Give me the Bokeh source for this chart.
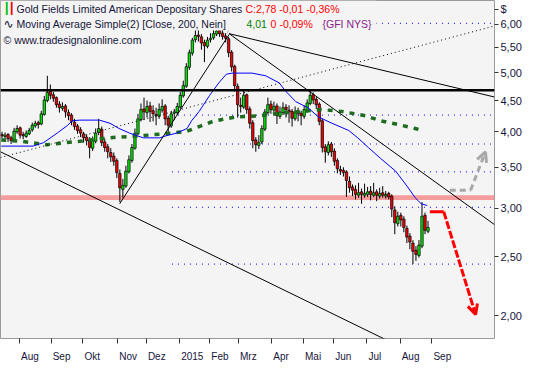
import pandas as pd
from bokeh.plotting import figure
from bokeh.models import (FixedTicker, CustomJSTickFormatter, Span, BoxAnnotation,
                          Label, Arrow, OpenHead, ColumnDataSource, Range1d)
from bokeh.embed import file_html
from bokeh.resources import INLINE

# ---------------- data ----------------
start_date = "2014-07-16"
holidays = ["2014-09-01", "2014-11-27", "2014-12-25", "2015-01-01", "2015-01-19",
            "2015-02-16", "2015-04-03", "2015-05-25", "2015-07-03", "2015-09-07"]
month_starts = ["2014-08-01", "2014-09-01", "2014-10-01", "2014-11-01", "2014-12-01",
                "2015-01-01", "2015-02-01", "2015-03-01", "2015-04-01", "2015-05-01",
                "2015-06-01", "2015-07-01", "2015-08-01", "2015-09-01"]
month_labels = ["Aug", "Sep", "Okt", "Nov", "Dez", "2015", "Feb", "Mrz", "Apr", "Mai",
                "Jun", "Jul", "Aug", "Sep"]
price_ticks = [2, 2.5, 3, 3.5, 4, 4.5, 5, 5.5, 6]
currency_tick = 6.35   # where the "$" unit label sits

# two-session candles (GFI, USD)
opens = [3.96, 3.93, 3.96, 3.91, 3.86, 4.00, 4.06, 3.96, 3.93, 3.97, 4.03, 4.09, 4.14, 4.12, 4.27, 4.50,
         4.66, 4.60, 4.55, 4.44, 4.37, 4.41, 4.30, 4.26, 4.15, 4.09, 4.03, 3.97, 3.92, 3.88, 3.76, 3.86,
         3.99, 4.04, 3.85, 3.78, 3.70, 3.65, 3.59, 3.42, 3.22, 3.26, 3.44, 3.59, 3.76, 3.97, 4.19, 4.36,
         4.30, 4.41, 4.33, 4.27, 4.24, 4.34, 4.41, 4.21, 4.09, 4.29, 4.30, 4.39, 4.58, 4.75, 5.10, 5.38,
         5.66, 5.76, 5.72, 5.60, 5.52, 5.66, 5.70, 5.78, 5.86, 5.80, 5.74, 5.68, 5.40, 5.12, 4.75, 4.42,
         4.39, 4.60, 4.36, 4.14, 3.88, 3.80, 3.85, 4.04, 4.30, 4.44, 4.34, 4.41, 4.24, 4.30, 4.39, 4.34,
         4.32, 4.20, 4.32, 4.29, 4.24, 4.34, 4.45, 4.60, 4.52, 4.44, 4.17, 3.78, 3.70, 3.82, 3.72, 3.59,
         3.47, 3.46, 3.44, 3.32, 3.25, 3.22, 3.15, 3.19, 3.15, 3.16, 3.20, 3.15, 3.19, 3.14, 3.18, 3.14,
         3.17, 3.14, 2.98, 2.83, 2.92, 2.88, 2.78, 2.70, 2.63, 2.56, 2.51, 2.60, 2.92, 2.75]
highs = [4.00, 3.99, 3.98, 3.94, 4.06, 4.10, 4.08, 4.00, 4.02, 4.06, 4.14, 4.17, 4.17, 4.33, 4.58, 4.94,
         4.78, 4.65, 4.57, 4.49, 4.47, 4.44, 4.35, 4.29, 4.20, 4.12, 4.07, 4.00, 3.96, 3.92, 3.93, 4.05,
         4.20, 4.08, 3.90, 3.82, 3.76, 3.70, 3.62, 3.47, 3.35, 3.52, 3.66, 3.82, 4.05, 4.28, 4.45, 4.55,
         4.50, 4.48, 4.42, 4.38, 4.45, 4.52, 4.44, 4.25, 4.33, 4.36, 4.46, 4.65, 4.85, 5.18, 5.45, 5.70,
         5.95, 5.90, 5.78, 5.66, 5.72, 5.80, 5.98, 6.02, 5.96, 5.92, 5.80, 5.72, 5.44, 5.15, 4.80, 4.55,
         4.68, 4.62, 4.40, 4.18, 3.92, 3.95, 4.10, 4.36, 4.55, 4.50, 4.48, 4.45, 4.40, 4.47, 4.44, 4.42,
         4.36, 4.40, 4.38, 4.33, 4.42, 4.52, 4.66, 4.64, 4.56, 4.47, 4.20, 3.82, 3.86, 3.85, 3.76, 3.62,
         3.52, 3.50, 3.46, 3.38, 3.28, 3.27, 3.30, 3.23, 3.29, 3.25, 3.26, 3.30, 3.22, 3.24, 3.26, 3.20,
         3.19, 3.16, 3.02, 2.96, 2.95, 2.91, 2.81, 2.73, 2.66, 2.60, 2.66, 3.07, 2.95, 2.86]
lows = [3.90, 3.89, 3.85, 3.82, 3.85, 3.97, 3.90, 3.89, 3.91, 3.95, 4.00, 4.06, 4.05, 4.10, 4.25, 4.47,
        4.52, 4.48, 4.38, 4.30, 4.33, 4.22, 4.18, 4.10, 4.03, 3.97, 3.92, 3.84, 3.80, 3.62, 3.72, 3.83,
        3.95, 3.79, 3.71, 3.62, 3.57, 3.52, 3.36, 3.07, 3.12, 3.24, 3.42, 3.56, 3.74, 3.95, 4.16, 4.18,
        4.22, 4.15, 4.16, 4.10, 4.20, 4.30, 4.10, 3.98, 4.06, 4.18, 4.26, 4.36, 4.55, 4.72, 5.05, 5.33,
        5.60, 5.62, 5.45, 5.20, 5.48, 5.60, 5.66, 5.74, 5.72, 5.66, 5.60, 5.30, 5.02, 4.66, 4.22, 4.30,
        4.36, 4.28, 4.05, 3.76, 3.71, 3.75, 3.82, 4.01, 4.27, 4.28, 4.30, 4.12, 4.20, 4.26, 4.22, 4.14,
        4.08, 4.17, 4.16, 4.10, 4.20, 4.30, 4.42, 4.44, 4.36, 4.10, 3.70, 3.56, 3.66, 3.64, 3.52, 3.42,
        3.40, 3.38, 3.13, 3.18, 3.14, 3.10, 3.12, 3.05, 3.12, 3.13, 3.09, 3.13, 3.08, 3.11, 3.12, 3.11,
        3.10, 2.90, 2.72, 2.80, 2.80, 2.74, 2.63, 2.57, 2.43, 2.46, 2.49, 2.58, 2.72, 2.73]
closes = [3.94, 3.95, 3.90, 3.87, 4.01, 4.05, 3.95, 3.94, 3.98, 4.02, 4.10, 4.13, 4.11, 4.28, 4.51, 4.64,
          4.59, 4.54, 4.43, 4.38, 4.40, 4.31, 4.25, 4.16, 4.08, 4.02, 3.98, 3.91, 3.87, 3.77, 3.87, 3.98,
          4.05, 3.84, 3.77, 3.71, 3.64, 3.58, 3.43, 3.24, 3.27, 3.45, 3.60, 3.77, 3.98, 4.20, 4.35, 4.31,
          4.40, 4.32, 4.28, 4.25, 4.35, 4.40, 4.20, 4.10, 4.28, 4.31, 4.40, 4.59, 4.76, 5.11, 5.39, 5.65,
          5.75, 5.73, 5.59, 5.53, 5.65, 5.69, 5.79, 5.85, 5.79, 5.73, 5.69, 5.39, 5.11, 4.76, 4.43, 4.40,
          4.59, 4.35, 4.13, 3.87, 3.81, 3.84, 4.05, 4.31, 4.43, 4.35, 4.40, 4.25, 4.31, 4.38, 4.35, 4.31,
          4.21, 4.31, 4.28, 4.25, 4.35, 4.46, 4.59, 4.51, 4.43, 4.16, 3.77, 3.71, 3.81, 3.71, 3.58, 3.48,
          3.45, 3.43, 3.33, 3.24, 3.21, 3.16, 3.18, 3.16, 3.17, 3.19, 3.16, 3.18, 3.15, 3.17, 3.15, 3.16,
          3.13, 2.99, 2.84, 2.91, 2.87, 2.79, 2.69, 2.64, 2.55, 2.52, 2.61, 2.91, 2.76, 2.79]

# moving averages (session index, value)
ma_short_day = [0, 21, 28, 37, 44, 47, 52, 65, 72, 78, 85, 90, 94, 105, 109, 116, 123, 126, 131, 138,
                144, 149, 153, 166, 175, 184, 188, 195, 203, 210, 219, 230, 236, 243, 251, 261, 269, 274,
                278, 282]
ma_short_val = [3.79, 3.79, 3.84, 3.98, 4.10, 4.17, 4.18, 4.18, 4.13, 4.05, 3.98, 3.94, 3.91, 3.91, 3.94,
                3.98, 4.05, 4.17, 4.32, 4.59, 4.81, 4.97, 4.99, 4.99, 4.94, 4.81, 4.67, 4.48, 4.38, 4.23,
                4.13, 4.02, 3.91, 3.77, 3.62, 3.45, 3.25, 3.12, 3.05, 3.03]
ma200_day = [0, 13, 30, 52, 70, 92, 113, 123, 131, 140, 155, 171, 184, 199, 212, 225, 241, 251, 263, 274, 279]
ma200_val = [3.88, 3.86, 3.81, 3.86, 3.91, 3.94, 3.98, 4.01, 4.08, 4.16, 4.23, 4.25, 4.29, 4.32, 4.35,
             4.32, 4.25, 4.17, 4.11, 4.05, 4.02]

# Fibonacci retracement levels (6.02 high -> 2.43 low)
fib_levels = [6.02, 4.26, 3.82, 3.44, 3.01, 2.43]
fib_start_day = 113
fib_end_day = 330

resistance = 4.68
support_band = (3.094, 3.150)

# trend lines: (day0, price0, day1, price1)
trend_solid = [(-0.5, 3.71, 256.1, 1.82),
               (78.4, 3.05, 150.8, 5.77),
               (150.8, 5.79, 326.5, 2.82),
               (150.8, 5.79, 326.5, 4.56)]
trend_dotted = [(-0.5, 3.63, 326.5, 5.96)]
trend_gray = [(149.5, 5.79, 160.7, 6.68)]

# scenario arrows (day, price)
gray_path_day = [296.9, 310.7, 320.5]
gray_path_val = [3.21, 3.21, 3.71]
red_path_day = [283.7, 292.9, 314.0]
red_path_val = [2.96, 2.96, 2.01]

# ---------------- figure ----------------
cal = pd.bdate_range(start_date, periods=360, freq="C", holidays=holidays)
tick_pos = [int(cal.searchsorted(pd.Timestamp(m))) for m in month_starts]

FONT = "Liberation Sans"
TXT = "#15153a"
BG = "#f4f4f4"
PX_PER_DAY = 1.496
XLAB_PX = 10
# approximate advance widths (1/1000 em) used to put month labels just right of their tick
CW = {"A": 667, "u": 556, "g": 556, "S": 667, "e": 556, "p": 556, "O": 778, "k": 500,
      "t": 278, "N": 722, "o": 556, "v": 500, "D": 722, "z": 500, "2": 556, "0": 556,
      "1": 556, "5": 556, "F": 611, "b": 556, "M": 833, "r": 333, "a": 556, "i": 222,
      "J": 500, "n": 556, "l": 222}
label_pos = [t + (sum(CW.get(ch, 556) for ch in lab) * XLAB_PX / 1000 / 2 + 1.5) / PX_PER_DAY
             for t, lab in zip(tick_pos, month_labels)]

p = figure(width=524, height=364, output_backend="svg", toolbar_location=None,
           y_axis_type="log", y_axis_location="right",
           x_range=Range1d(-0.5, 326.5), y_range=Range1d(1.836, 6.56),
           min_border_left=0, min_border_top=0, min_border_bottom=0, min_border_right=0)
p.background_fill_color = BG
p.border_fill_color = "white"
p.outline_line_color = "#9a9a9a"
p.grid.visible = False

xa = p.xaxis[0]
xa.ticker = FixedTicker(ticks=label_pos, minor_ticks=tick_pos)
xa.formatter = CustomJSTickFormatter(
    args=dict(pos=label_pos, labs=month_labels),
    code="""
let best = 0, bd = 1e9;
for (let i = 0; i < pos.length; i++) { const d = Math.abs(pos[i] - tick); if (d < bd) { bd = d; best = i; } }
return labs[best];
""")
xa.major_tick_line_color = None
xa.minor_tick_out = 5
xa.minor_tick_in = 0
xa.minor_tick_line_color = "#333333"
xa.axis_line_color = None
xa.major_label_text_font = FONT
xa.major_label_text_font_size = f"{XLAB_PX}px"
xa.major_label_text_color = TXT
xa.major_label_standoff = 6

ya = p.yaxis[0]
ya.ticker = FixedTicker(ticks=price_ticks + [currency_tick])
ya.formatter = CustomJSTickFormatter(
    args=dict(cur=currency_tick),
    code="return Math.abs(tick - cur) < 1e-6 ? '$' : tick.toFixed(2).replace('.', ',');")
ya.major_tick_out = 4
ya.major_tick_in = 0
ya.minor_tick_line_color = None
ya.axis_line_color = None
ya.major_tick_line_color = "#333333"
ya.major_label_text_font = FONT
ya.major_label_text_font_size = "11px"
ya.major_label_text_color = TXT
ya.major_label_standoff = 2

# support band
p.add_layout(BoxAnnotation(bottom=support_band[0], top=support_band[1], fill_color="#f59c9c",
                           fill_alpha=1.0, line_color=None, level="underlay"))

# fib levels
for lv in fib_levels:
    p.line([fib_start_day, fib_end_day], [lv, lv], line_color="#0000ff", line_width=1,
           line_dash="1 5")

# candles
xs = [2 * k + 0.5 for k in range(len(closes))]
src = ColumnDataSource(dict(
    x=xs, o=opens, h=highs, l=lows, c=closes,
    top=[max(a, b) for a, b in zip(opens, closes)],
    bot=[min(a, b) for a, b in zip(opens, closes)],
    col=["#00e400" if c >= o else "#f00000" for o, c in zip(opens, closes)]))
p.segment(x0="x", y0="l", x1="x", y1="h", source=src, line_color="black", line_width=1)
p.vbar(x="x", width=1.6, top="top", bottom="bot", source=src, fill_color="col",
       line_color="black", line_width=0.7)

# moving averages
p.line(ma200_day, ma200_val, line_color="#1f6b1f", line_width=3.5, line_dash="5 6")
p.line(ma_short_day, ma_short_val, line_color="#0000ff", line_width=1)

# trend lines
for d0, v0, d1, v1 in trend_solid:
    p.line([d0, d1], [v0, v1], line_color="black", line_width=1)
for d0, v0, d1, v1 in trend_dotted:
    p.line([d0, d1], [v0, v1], line_color="black", line_width=1, line_dash="1 3")

p.add_layout(Span(location=resistance, dimension="width", line_color="black", line_width=2.5))

# scenario arrows
p.line(gray_path_day[:2], gray_path_val[:2], line_color="#a8a8a8", line_width=3, line_dash="6 4")
p.add_layout(Arrow(end=OpenHead(size=10, line_color="#a8a8a8", line_width=3),
                   x_start=gray_path_day[1], y_start=gray_path_val[1],
                   x_end=gray_path_day[2], y_end=gray_path_val[2],
                   line_color="#a8a8a8", line_width=3, line_dash="6 4"))
p.line(red_path_day[:2], red_path_val[:2], line_color="#ff0000", line_width=3)
p.add_layout(Arrow(end=OpenHead(size=10, line_color="#ff0000", line_width=3),
                   x_start=red_path_day[1], y_start=red_path_val[1],
                   x_end=red_path_day[2], y_end=red_path_val[2],
                   line_color="#ff0000", line_width=3, line_dash="8 2"))

# header panel (opaque, like the chart's legend area)
p.add_layout(BoxAnnotation(left=0, right=376, left_units="screen", right_units="screen",
                           top=6.56, bottom=5.86, fill_color=BG, fill_alpha=1.0,
                           line_color=None))
for d0, v0, d1, v1 in trend_gray:
    p.line([d0, d1], [v0, v1], line_color="#b0b0b0", line_width=1)

def lab(x, y, text, color=TXT, font=FONT, size="10.5px"):
    p.add_layout(Label(x=x, y=y, x_units="screen", y_units="data", text=text,
                       text_color=color, text_font=font, text_font_size=size,
                       text_baseline="middle", text_align="left"))

lab(16, 6.36, "Gold Fields Limited American Depositary Shares")
lab(245, 6.36, "C:2,78 -0,01 -0,36%", "#ff0000")
lab(3, 6.00, "\u223f", TXT, "DejaVu Sans", "12px")
lab(16, 6.00, "Moving Average Simple(2) [Close, 200, Nein]")
lab(246, 6.00, "4,01", "#008000")
lab(270, 6.00, "0", "#ff0000")
lab(279, 6.00, "-0,09%", "#ff0000")
lab(322, 6.00, "{GFI NYS}", "#8b1a8b")
lab(3, 5.66, "\u00a9 www.tradesignalonline.com")
lab(3, 6.36, "\u2503", "#00c000", "DejaVu Sans", "11px")
lab(8, 6.36, "\u2503", "#f00000", "DejaVu Sans", "11px")

open("out.html", "w").write(file_html(p, INLINE))
